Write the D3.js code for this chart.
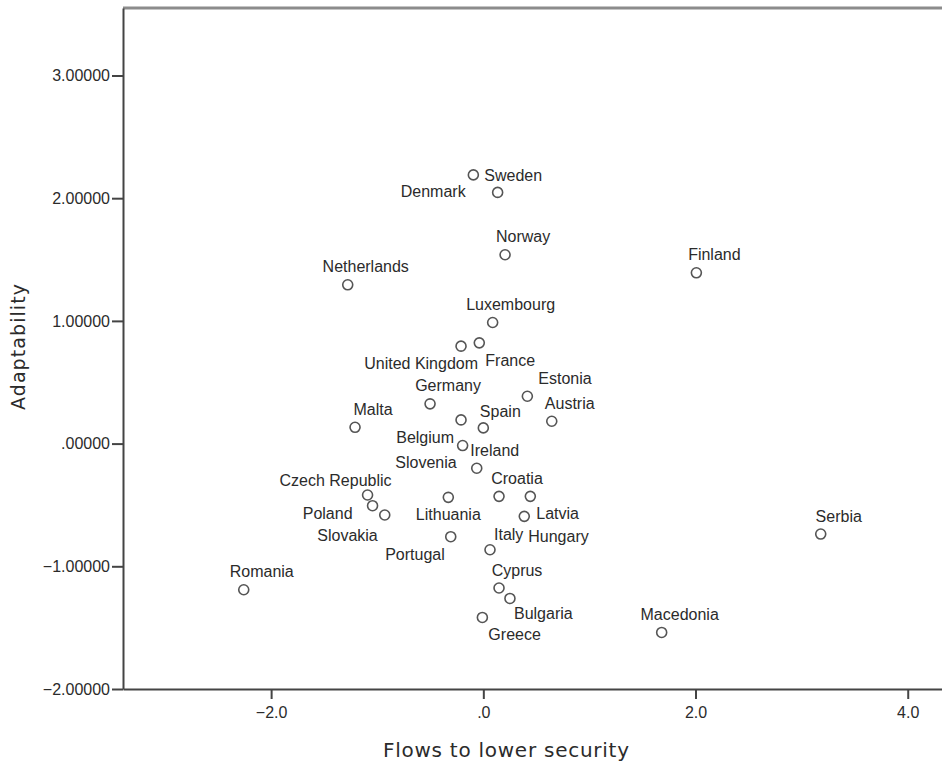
<!DOCTYPE html>
<html><head><meta charset="utf-8">
<script src="https://cdn.jsdelivr.net/npm/d3@7"></script>
<style>
html,body{margin:0;padding:0;background:#fff;}
svg{display:block;}
</style>
</head><body>
<svg id="chart" width="942" height="763"></svg>
<script>
// ---- data ----
const countries = ["Sweden","Denmark","Norway","Netherlands","Finland","Luxembourg","United Kingdom","France","Germany","Estonia","Malta","Spain","Austria","Belgium","Slovenia","Ireland","Czech Republic","Poland","Slovakia","Lithuania","Croatia","Latvia","Hungary","Portugal","Italy","Cyprus","Bulgaria","Greece","Romania","Macedonia","Serbia"];
const flowsToLowerSecurity = [-0.094,0.135,0.205,-1.278,2.008,0.088,-0.210,-0.038,-0.502,0.415,-1.209,0.000,0.645,-0.210,-0.195,-0.062,-1.091,-1.044,-0.929,-0.330,0.148,0.443,0.386,-0.307,0.063,0.148,0.251,-0.009,-2.258,1.681,3.180];
const adaptability = [2.190,2.047,1.539,1.294,1.392,0.987,0.794,0.821,0.324,0.386,0.133,0.128,0.182,0.193,-0.016,-0.201,-0.419,-0.506,-0.582,-0.438,-0.430,-0.430,-0.593,-0.759,-0.865,-1.177,-1.262,-1.417,-1.191,-1.539,-0.737];
const xTicks = [-2, 0, 2, 4];
const yTicks = [-2, -1, 0, 1, 2, 3];
const xTitle = "Flows to lower security";
const yTitle = "Adaptability";

// ---- label placement (layout only) ----
const above = [18, -12.5, "middle"];
const labelPlace = {
  "Sweden":[11,6,"start"], "Denmark":[-32,5,"end"], "United Kingdom":[17,23,"end"],
  "France":[6,23,"start"], "Estonia":[11,-12,"start"], "Belgium":[-7,23,"end"],
  "Slovenia":[-6,22,"end"], "Czech Republic":[24,-9,"end"], "Poland":[-20,13,"end"],
  "Slovakia":[-7,26,"end"], "Lithuania":[0,23,"middle"], "Latvia":[6,23,"start"],
  "Hungary":[4,26,"start"], "Portugal":[-6,23,"end"], "Italy":[4,-10,"start"],
  "Bulgaria":[4,21,"start"], "Greece":[6,23,"start"], "Spain":[17,-11,"middle"]
};

// ---- layout ----
const mLeft = 123, mTop = 8, mRight = 942, mBottom = 689;
const svg = d3.select("#chart");

const x = d3.scaleLinear().domain([-3.396, 4.323]).range([mLeft, mRight]);
const y = d3.scaleLinear().domain([-2, 3.55]).range([mBottom, mTop]);

const stripZero = s => s.replace(/^(-?)0\./, "$1.");
const fx = v => stripZero(d3.format(".1f")(v));
const fy = v => stripZero(d3.format(".5f")(v));

const textColor = "#2b2b2b";
const axisColor = "#444";

// top frame line
svg.append("line")
  .attr("x1", mLeft).attr("x2", mRight).attr("y1", mTop).attr("y2", mTop)
  .attr("stroke", "#8c8c8c").attr("stroke-width", 3);

// x axis
const gx = svg.append("g").attr("transform", `translate(0,${mBottom})`)
  .call(d3.axisBottom(x).tickValues(xTicks).tickFormat(fx).tickSize(10).tickSizeOuter(0).tickPadding(8));
// y axis
const gy = svg.append("g").attr("transform", `translate(${mLeft},0)`)
  .call(d3.axisLeft(y).tickValues(yTicks).tickFormat(fy).tickSize(11).tickSizeOuter(0).tickPadding(2));

[gx, gy].forEach(g => {
  g.select(".domain").attr("stroke", axisColor).attr("stroke-width", 2);
  g.selectAll(".tick line").attr("stroke", axisColor).attr("stroke-width", 2);
  g.selectAll(".tick text").attr("fill", textColor)
    .style("font-family", "'Liberation Sans', Arial, sans-serif").style("font-size", "16px");
});

// points
const data = countries.map((c, i) => ({name: c, fx: flowsToLowerSecurity[i], ad: adaptability[i]}));

svg.append("g").selectAll("circle").data(data).join("circle")
  .attr("cx", d => x(d.fx)).attr("cy", d => y(d.ad)).attr("r", 5)
  .attr("fill", "none").attr("stroke", "#555").attr("stroke-width", 1.6);

svg.append("g").selectAll("text").data(data).join("text")
  .each(function(d) {
    const p = labelPlace[d.name] || above;
    d3.select(this)
      .attr("x", x(d.fx) + p[0]).attr("y", y(d.ad) + p[1])
      .attr("text-anchor", p[2]);
  })
  .attr("fill", textColor)
  .style("font-family", "'Liberation Sans', Arial, sans-serif").style("font-size", "16px")
  .text(d => d.name);

// axis titles
svg.append("text")
  .attr("x", 506).attr("y", 757).attr("text-anchor", "middle")
  .attr("fill", textColor)
  .attr("textLength", 246).attr("lengthAdjust", "spacing")
  .style("font-family", "'DejaVu Sans', sans-serif").style("font-size", "20px")
  .text(xTitle);

svg.append("text")
  .attr("transform", "translate(25,347) rotate(-90)").attr("text-anchor", "middle")
  .attr("fill", textColor)
  .attr("textLength", 126).attr("lengthAdjust", "spacing")
  .style("font-family", "'DejaVu Sans', sans-serif").style("font-size", "19px")
  .text(yTitle);
</script>
</body></html>
